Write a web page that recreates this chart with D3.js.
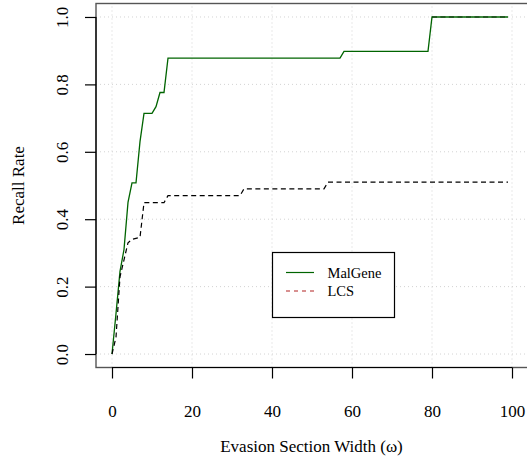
<!DOCTYPE html>
<html lang="en">
<head>
<meta charset="UTF-8">
<title>Recall Rate vs Evasion Section Width</title>
<script src="https://d3js.org/d3.v7.min.js"></script>
<style>
    body { margin: 0; background: #fff; }
    svg { display: block; }
    svg text { font-family: "Liberation Serif", "DejaVu Serif", serif !important; fill: #000; }
</style>
</head>
<body>
<svg width="527" height="458"></svg>
<script>
    // data
    const xTicks = [0, 20, 40, 60, 80, 100];
    const yTicks = [0.0, 0.2, 0.4, 0.6, 0.8, 1.0];

    const malGeneX = [0, 1, 2, 3, 4, 5, 6, 7, 8, 10, 11, 12, 13, 14, 57, 58, 79, 80, 99];
    const malGeneY = [0, 0.12, 0.245, 0.31, 0.45, 0.508, 0.508, 0.63, 0.714, 0.714, 0.734, 0.776, 0.776, 0.878, 0.878, 0.898, 0.898, 1.0, 1.0];

    const lcsX = [0, 1, 2, 4, 5, 7, 8, 13, 14, 32, 33, 53, 54, 99];
    const lcsY = [0, 0.05, 0.229, 0.33, 0.34, 0.346, 0.449, 0.449, 0.47, 0.47, 0.49, 0.49, 0.51, 0.51];

    // dashed trace that sits on top of MalGene at 1.0
    const topX = [80, 99];
    const topY = [1.0, 1.0];

    const legendNames = ["MalGene", "LCS"];

    const svg = d3.select("svg");

    const x = d3.scaleLinear().domain([-4, 104]).range([96, 528]);
    const y = d3.scaleLinear().domain([-0.04, 1.04]).range([367.5, 3.5]);

    // grid
    svg.append("g").selectAll("line")
        .data(xTicks)
        .join("line")
        .attr("x1", d => x(d)).attr("x2", d => x(d))
        .attr("y1", y.range()[0]).attr("y2", y.range()[1])
        .attr("stroke", "#d3d3d3").attr("stroke-width", 1)
        .attr("stroke-dasharray", "1,3");

    svg.append("g").selectAll("line")
        .data(yTicks)
        .join("line")
        .attr("x1", x.range()[0]).attr("x2", x.range()[1])
        .attr("y1", d => y(d)).attr("y2", d => y(d))
        .attr("stroke", "#d3d3d3").attr("stroke-width", 1)
        .attr("stroke-dasharray", "1,3");

    const line = d3.line()
        .x(d => x(d[0]))
        .y(d => y(d[1]));

    svg.append("path")
        .datum(d3.zip(malGeneX, malGeneY))
        .attr("d", line)
        .attr("fill", "none")
        .attr("stroke", "#006400")
        .attr("stroke-width", 1.3);

    svg.append("path")
        .datum(d3.zip(lcsX, lcsY))
        .attr("d", line)
        .attr("fill", "none")
        .attr("stroke", "#000")
        .attr("stroke-width", 1.2)
        .attr("stroke-dasharray", "5,3.5");

    svg.append("path")
        .datum(d3.zip(topX, topY))
        .attr("d", line)
        .attr("fill", "none")
        .attr("stroke", "#0a300a")
        .attr("stroke-width", 1.2)
        .attr("stroke-dasharray", "5,3.5");

    // frame
    svg.append("rect")
        .attr("x", x.range()[0]).attr("y", y.range()[1])
        .attr("width", x.range()[1] - x.range()[0])
        .attr("height", y.range()[0] - y.range()[1])
        .attr("fill", "none")
        .attr("stroke", "#555")
        .attr("stroke-width", 1.4);

    // x axis
    const xAxis = svg.append("g")
        .attr("transform", `translate(0,${y.range()[0]})`)
        .call(d3.axisBottom(x).tickValues(xTicks).tickSize(11).tickPadding(26).tickFormat(d3.format("d")));
    xAxis.attr("font-family", null).attr("font-size", null);
    xAxis.select(".domain").remove();
    xAxis.append("line")
        .attr("x1", x(0)).attr("x2", x(100))
        .attr("stroke", "#000").attr("stroke-width", 1.2);
    xAxis.selectAll(".tick line").attr("stroke", "#000").attr("stroke-width", 1.2);
    xAxis.selectAll(".tick text")
        .style("font-size", "17px");

    // y axis
    const yAxis = svg.append("g")
        .attr("transform", `translate(${x.range()[0]},0)`)
        .call(d3.axisLeft(y).tickValues(yTicks).tickSize(11).tickFormat(d3.format(".1f")));
    yAxis.attr("font-family", null).attr("font-size", null);
    yAxis.select(".domain").remove();
    yAxis.append("line")
        .attr("y1", y(0)).attr("y2", y(1))
        .attr("stroke", "#000").attr("stroke-width", 1.2);
    yAxis.selectAll(".tick line").attr("stroke", "#000").attr("stroke-width", 1.2);
    yAxis.selectAll(".tick text")
        .attr("x", null).attr("dy", null)
        .attr("transform", "translate(-28,0) rotate(-90)")
        .attr("text-anchor", "middle")
        .style("font-size", "17px");

    // axis titles
    svg.append("text")
        .attr("x", (x.range()[0] + x.range()[1]) / 2 - 0.5)
        .attr("y", 452)
        .attr("text-anchor", "middle")
        .style("font-size", "17px")
        .text("Evasion Section Width (ω)");

    svg.append("text")
        .attr("transform", `translate(23.5,${(y.range()[0] + y.range()[1]) / 2}) rotate(-90)`)
        .attr("text-anchor", "middle")
        .style("font-size", "17px")
        .text("Recall Rate");

    // legend
    const legend = svg.append("g");
    legend.append("rect")
        .attr("x", 272.5).attr("y", 252.5)
        .attr("width", 122).attr("height", 65)
        .attr("fill", "#fff")
        .attr("stroke", "#000").attr("stroke-width", 1.2);

    const legendColors = ["#006400", "#b22222"];
    const legendDash = [null, "4,4"];
    const ly = d3.scalePoint().domain(legendNames).range([272.5, 291]);

    legend.selectAll(".key")
        .data(legendNames)
        .join("line")
        .attr("x1", 286).attr("x2", 314)
        .attr("y1", d => ly(d)).attr("y2", d => ly(d))
        .attr("stroke", (d, i) => legendColors[i])
        .attr("stroke-width", 1.2)
        .attr("stroke-dasharray", (d, i) => legendDash[i]);

    legend.selectAll(".label")
        .data(legendNames)
        .join("text")
        .attr("x", 327.5)
        .attr("y", d => ly(d) + 5)
        .style("font-size", "14.5px")
        .text(d => d);
</script>
</body>
</html>
